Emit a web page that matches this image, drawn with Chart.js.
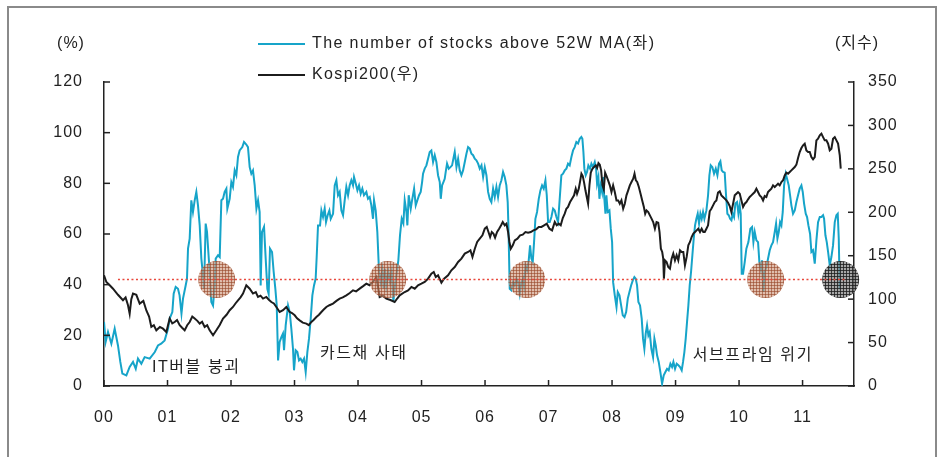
<!DOCTYPE html>
<html><head><meta charset="utf-8">
<script src="https://cdn.jsdelivr.net/npm/chart.js@4.4.1/dist/chart.umd.min.js"></script>
<style>
html,body{margin:0;padding:0;background:#fff;overflow:hidden;}
#wrap{position:relative;width:938px;height:457px;}
#frame{position:absolute;left:7px;top:6px;width:930px;height:470px;border:2px solid #8a8a8a;box-sizing:border-box;}
canvas{position:absolute;left:0;top:0;}
</style></head><body>
<div id="wrap"><div id="frame"></div><canvas id="c" width="938" height="457"></canvas></div>
<script>
// ---- data (x = years since 2000) ----
const xTickLabels = ['00','01','02','03','04','05','06','07','08','09','10','11'];
const seriesNames = ['The number of stocks above 52W MA(좌)', 'Kospi200(우)'];
const leftUnit = '(%)';
const rightUnit = '(지수)';

const breadthT = [0,0.026,0.063,0.116,0.168,0.22,0.257,0.289,0.352,0.404,0.457,0.5,0.535,0.588,0.64,0.72,0.8,0.85,0.9,0.955,1.008,1.034,1.076,1.097,1.129,1.165,1.19,1.22,1.244,1.286,1.307,1.323,1.349,1.375,1.401,1.428,1.454,1.48,1.507,1.533,1.559,1.575,1.601,1.622,1.643,1.664,1.69,1.717,1.743,1.759,1.795,1.822,1.848,1.874,1.9,1.927,1.942,1.979,2.005,2.031,2.058,2.084,2.11,2.136,2.178,2.205,2.241,2.267,2.294,2.32,2.346,2.373,2.4,
2.426,2.451,2.467,2.488,2.52,2.546,2.572,2.593,2.614,2.646,2.672,2.698,2.72,2.741,2.766,2.793,2.818,2.835,2.861,2.898,2.924,2.95,2.976,2.992,3.018,3.045,3.071,3.097,3.123,3.15,3.176,3.202,3.228,3.255,3.281,3.307,3.333,3.349,3.37,3.402,3.423,3.449,3.475,3.496,3.522,3.549,3.57,3.607,3.633,3.659,3.685,3.711,3.738,3.764,3.79,3.816,3.843,3.869,3.895,3.921,3.937,3.964,3.99,4.016,4.042,4.068,4.094,4.131,4.157,4.184,4.21,4.236,4.252,4.278,4.304,4.331,4.357,4.383,4.404,4.425,4.446,4.478,4.504,4.53,4.557,4.583,4.61,4.635,4.661,4.688,4.714,
4.735,4.762,4.777,4.798,4.83,4.851,4.883,4.909,4.935,4.961,4.987,5.009,5.024,5.05,5.077,5.103,5.129,5.155,5.182,5.208,5.234,5.26,5.287,5.303,5.324,5.345,5.365,5.381,5.402,5.429,5.455,5.481,5.507,5.523,5.55,5.576,5.602,5.628,5.654,5.681,5.707,5.733,5.76,5.786,5.812,5.838,5.864,5.891,5.917,5.944,5.97,5.996,6.022,6.048,6.074,6.1,6.127,6.153,6.179,6.205,6.231,6.258,6.284,6.31,6.336,6.357,6.368,6.389,6.415,6.441,6.468,6.494,6.52,6.547,6.573,6.6,6.615,6.636,6.662,6.688,6.709,6.73,6.751,6.772,6.793,6.819,6.846,6.872,6.898,6.924,6.951,6.972,6.993,7.019,7.045,7.072,7.098,7.124,7.15,
7.202,7.228,7.255,7.281,7.307,7.333,7.36,7.386,7.412,7.438,7.465,7.491,7.517,7.533,7.549,7.564,7.585,7.606,7.627,7.654,7.675,7.701,7.728,7.749,7.764,7.785,7.801,7.822,7.843,7.859,7.875,7.896,7.911,7.932,7.959,7.98,8.001,8.017,8.043,8.07,8.09,8.117,8.143,8.169,8.196,8.222,8.248,8.274,8.3,8.327,8.352,8.373,8.394,8.415,8.441,8.467,8.488,8.509,8.53,8.551,8.572,8.593,8.619,8.646,8.667,8.688,8.709,8.735,8.761,8.788,8.814,8.84,8.866,8.892,8.919,8.945,8.966,8.992,9.018,9.045,9.071,9.097,9.118,9.139,9.16,9.181,9.202,9.223,9.244,9.265,9.286,9.307,9.328,9.349,9.37,9.391,9.412,9.433,9.454,
9.486,9.512,9.533,9.554,9.58,9.606,9.633,9.659,9.685,9.706,9.727,9.748,9.774,9.795,9.816,9.838,9.859,9.88,9.9,9.921,9.942,9.969,9.99,10.01,10.026,10.042,10.063,10.089,10.115,10.147,10.178,10.205,10.226,10.247,10.273,10.299,10.32,10.341,10.362,10.383,10.404,10.43,10.457,10.483,10.509,10.535,10.562,10.583,10.604,10.625,10.646,10.667,10.688,10.709,10.735,10.756,10.782,10.803,10.824,10.85,10.877,10.903,10.929,10.955,10.982,11.003,11.024,11.05,11.071,11.092,11.118,11.139,11.165,11.192,11.218,11.244,11.271,11.297,11.323,11.339,11.36,11.381,11.402,11.428,11.454,11.48,11.507,11.533,11.554,11.57,11.585];
const breadthPct = [25.3,17.4,21.3,16.7,22.6,16,9.5,4.9,4.2,7.5,9.5,6.8,10.8,8.8,11.4,10.8,13.4,16,16.7,18,22.6,26.6,29.2,36.4,39.1,38.4,35.8,28.6,34.5,39.7,42.4,54.2,58.2,73.3,68.7,73.3,76.6,71.3,63.4,50.3,43.7,38.4,64.1,60.8,52.9,45,33.2,31.8,39.7,50.3,51.6,50.9,73.3,73.9,76.6,77.9,70,73.9,80.5,78.6,85.1,83.2,90.4,93,94.3,96.3,95.3,94.3,86.4,83.8,85.1,79.2,70,
73.3,68.7,39.7,60.8,62.8,50.3,38.4,36.4,54.2,52.9,45,38.4,31.8,10.1,17.4,19.3,20.7,14.1,23.9,31.8,29.2,22.6,14.7,6.2,14.1,13.4,10.1,10.8,9.5,10.8,5.5,13.4,18.7,26.6,35.8,39.7,42.4,50.9,63.4,63.4,69.3,66.7,70,64.7,67.4,69.3,66,68,79.2,81.2,75.3,76.6,69.3,67.4,73.3,78.6,75.3,79.2,81.2,79.2,82.5,79.9,77.2,79.2,75.9,77.9,75.3,76.6,73.9,74.6,71.3,66,73.3,69.3,60.8,45,41,45.7,38.4,46.3,39.7,45,41,45,33.5,39.7,45,49.6,59.5,66,64.2,
73.3,68.7,63.4,75.3,70,73.3,77.9,71.3,73.3,75.3,76.6,80.5,83.8,85.8,87.1,89.7,92.4,93,88.4,91.1,88.4,83.2,80.5,73.9,79.2,80.5,81.8,84.5,87.8,85.8,86.4,87.1,90.4,92.4,86.4,89.7,85.1,83.2,85.1,88.4,91.7,94.3,93.7,91.7,91.1,89.7,89.1,87.8,85.8,87.1,82.5,86.4,83.2,76.6,73.9,72.6,77.9,74.6,78.6,74.6,79.2,81.2,84.5,82.5,79.2,72.6,63.4,38.4,37.8,41,39.7,42.4,41,36.4,41,42.4,39.7,47.6,45.7,49.6,55.5,50.3,48.9,56.8,66,68.7,73.9,77.2,79.2,77.9,81.2,75.3,64.7,64.7,66.7,70,69.3,66.7,64.7,
83.2,83.8,85.1,85.8,87.8,87.1,90.4,93,94.3,96.3,95.7,97.6,98.3,97.6,92.4,85.8,83.2,84.5,87.1,85.8,87.8,86.4,88.4,85.8,79.9,82.5,73.9,79.2,76.6,82.5,75.3,68,75.3,68.7,69.3,62.1,56.8,41,35.8,31.2,37.1,35.8,31.8,27.9,27.2,29.2,34.5,37.1,39.7,41.7,43,42.4,39.7,33.2,31.8,26.6,18.7,14.7,20.7,23.9,20,21.3,14.7,11.4,18.7,16,12.1,9.5,5.5,0.9,4.2,5.5,6.8,6.2,8.8,7.5,9.5,6.8,8.8,8.2,7.5,6.2,9.5,13.4,18.7,25.3,31.8,39.7,45,51.6,58.2,63.4,66,68,64.1,68,66,68.7,66,
69.3,75.3,83.2,87.1,86.4,83.8,85.8,83.2,87.8,88.7,85.1,84.5,84.2,75.3,68,67.4,66,65.4,68,66.7,72,72.6,68,71.3,68,44.3,44.3,48.9,54.2,56.8,62.1,62.8,56.8,60.8,57.5,56.8,48.9,46.3,49.6,37.1,45,47,50.3,53.6,55.5,56.8,60.8,64.1,58.2,60.8,64.7,63.4,68.7,79.2,83.8,81.8,79.2,75.3,71.3,68,69.3,72.6,75.3,77.9,79.2,76.6,72,68,66.7,63.4,60.1,52.9,53.6,48.3,57.5,64.7,66.7,66.7,67.4,66,59.5,56.8,52.9,47.6,50.9,55.5,64.7,67.4,68,58.2,38.2];

const kospiT = [0,0.037,0.09,0.142,0.22,0.299,0.34,0.378,0.404,0.43,0.457,0.509,0.562,0.62,0.667,0.71,0.745,0.785,0.824,0.88,0.929,0.982,1.034,1.075,1.113,1.15,1.192,1.23,1.27,1.31,1.349,1.39,1.428,1.47,1.507,1.545,1.585,1.625,1.664,1.717,1.769,1.82,1.874,1.93,1.979,2.031,2.07,2.11,2.15,2.189,2.241,2.294,2.346,2.39,2.425,2.465,2.504,2.556,2.6,2.635,2.675,2.714,2.766,2.819,2.871,2.924,2.96,3.003,3.04,3.081,3.13,3.186,3.225,3.265,3.3,3.344,3.385,3.423,3.46,3.501,3.55,3.606,3.66,3.711,3.76,3.816,3.87,3.921,3.97,4.026,4.08,4.131,4.18,4.236,4.289,4.341,4.39,4.446,4.51,4.577,4.62,4.656,
4.735,4.788,4.841,4.893,4.945,4.998,5.05,5.103,5.155,5.192,5.224,5.26,5.313,5.355,5.418,5.47,5.523,5.576,5.628,5.681,5.733,5.77,5.802,5.839,5.876,5.917,5.959,5.996,6.027,6.054,6.08,6.106,6.132,6.158,6.19,6.222,6.253,6.279,6.311,6.337,6.363,6.384,6.405,6.437,6.468,6.51,6.552,6.594,6.636,6.678,6.72,6.762,6.804,6.846,6.888,6.93,6.972,7.014,7.056,
7.098,7.129,7.16,7.192,7.224,7.255,7.281,7.307,7.339,7.37,7.402,7.428,7.449,7.476,7.497,7.518,7.539,7.56,7.581,7.602,7.623,7.644,7.665,7.691,7.717,7.744,7.765,7.786,7.807,7.828,7.849,7.87,7.891,7.912,7.938,7.965,7.991,8.017,8.043,8.07,8.096,8.122,8.148,8.175,8.201,8.227,8.254,8.28,8.306,8.333,8.354,8.375,8.396,8.422,8.449,8.475,8.501,8.522,8.543,8.57,8.596,8.622,8.648,8.675,8.701,8.727,8.748,8.769,8.79,8.806,8.817,8.833,8.859,8.885,8.912,8.938,8.964,8.991,9.017,9.043,9.07,9.096,9.122,9.148,9.175,9.201,9.227,9.253,9.28,9.306,9.332,9.358,9.385,9.411,9.437,
9.46,9.486,9.512,9.538,9.564,9.591,9.617,9.643,9.669,9.696,9.722,9.748,9.774,9.801,9.827,9.853,9.879,9.906,9.932,9.958,9.984,10.011,10.037,10.063,10.089,10.116,10.142,10.168,10.194,10.22,10.247,10.273,10.299,10.325,10.352,10.378,10.404,10.43,10.456,10.483,10.509,10.535,10.562,10.588,10.614,10.64,10.667,10.693,10.719,10.745,10.772,10.798,10.824,10.85,10.877,10.903,10.929,10.955,10.982,11.008,11.034,11.06,11.087,11.113,11.139,11.165,11.192,11.218,11.244,11.271,11.297,11.323,11.349,11.375,11.402,11.428,11.454,11.48,11.507,11.533,11.559,11.586,11.601];
const kospiIdx = [127.4,119.7,116,112,105,98.7,102,92.9,83.3,100,106.4,105,94.8,98,87,80,68,70,64.1,68,66,62.2,77.6,72,73.7,76,69.9,67,64.1,70,73.7,80,77.6,75,71.8,74,68,70,64.1,58.4,64.1,70,77.6,82,87.2,91,95,98.7,102,106.4,116,112,106.4,108,102.5,104,100.6,102.5,99,96.7,95,91,85.2,87.2,91,85.2,84,81.4,78,75.6,73,71.8,70,73.7,76,79.4,82,85.2,88,91,93,94.9,98,100.6,102,104.4,107,110.2,109,112.1,115,117.9,116,119.8,125.5,102.5,104,100.6,99,96.7,101,104.4,
108.2,110.1,114,112,115.9,117.8,119.8,123.6,129.4,131.3,125.5,127.4,119,123.6,127.4,133.2,137,142.8,146.6,152.4,154.3,156.2,148.5,158.1,165.8,169.6,173.5,181.1,183.1,177.3,171.5,177.3,175.4,170.8,177.3,181.1,185,188.8,185,186.9,177.3,165.8,158.1,162,167.7,169.6,173.5,174.2,177.3,176.5,177.3,179.2,180.4,183.1,183.1,185,186.9,181.1,179.2,
188.8,185,186.9,185,193.4,198.4,204.1,206.1,211.8,215.7,219.5,227.2,221.4,227.2,235.6,244.5,241.8,234.1,225.3,217.6,209.9,231,245.6,250.2,252.2,254.1,251,256.7,254.8,248.3,231,226.4,245.6,241.8,236.8,231,223.3,231,223.3,213.7,213.7,209.9,213.7,204.1,209.9,219.5,225.3,231,234.9,238.7,244.5,236.8,234.9,229.1,221.4,213.7,206.1,198.4,202.2,200.3,196.5,192.7,188.8,181.1,188.8,188.1,177.3,158.1,154.3,146.6,123.6,144.7,142.8,137,135.1,146.6,152.4,144.7,150.5,144.7,156.2,154.3,154.3,139,148.6,162,165.8,171.5,175.4,177.3,179.2,181.1,177.3,181.1,177.3,
177.3,181.1,185,201.1,204.1,208,211.8,213.7,222.6,224.1,219.5,217.6,215.7,213.7,211,207.2,200.3,209.9,219.5,221.4,223.3,221.4,213.7,206.1,209.9,211.8,214.9,217.6,219.5,221.4,223.3,227.2,223.3,219.5,217.6,213.7,218.7,217.6,223.3,225.3,227.2,231,229.1,231,232.9,231,234.9,236.8,242.5,245.6,244.5,246.4,248.3,250.2,252.1,254.8,262.5,269.4,274,277.1,279,271.3,269.4,269.4,263.6,260.9,263.6,282.8,284.7,288.6,290.5,286.6,282.8,282.8,279,271.3,273.2,284.7,286.6,282.8,279,265.6,250.2];

const thresholdT = [0.22, 11.67];
const thresholdPct = [42, 42];
const crisisT = [1.775, 4.468, 6.657, 10.42, 11.6];
const crisisPct = [42, 42, 42, 42, 42];
const crisisKind = ['past', 'past', 'past', 'past', 'now'];
const noteTexts = ['IT버블 붕괴', '카드채 사태', '서브프라임 위기'];
const noteT = [0.754, 3.40, 9.27];
const notePct = [7.4, 12.9, 12.1];

// ---- chart ----
const FONT = "'Liberation Sans', 'Noto Sans CJK KR', sans-serif";
const canvas = document.getElementById('c');
const ctx = canvas.getContext('2d');

function makeHatch(base, line) {
  const c = document.createElement('canvas');
  c.width = 3; c.height = 3;
  const g = c.getContext('2d');
  g.fillStyle = base; g.fillRect(0, 0, 3, 3);
  g.fillStyle = line; g.fillRect(0, 0, 3, 1); g.fillRect(0, 0, 1, 3);
  return ctx.createPattern(c, 'repeat');
}
const hatchPast = makeHatch('rgba(205,150,122,0.62)', 'rgba(150,70,40,0.6)');
const hatchNow = makeHatch('rgba(130,130,130,0.7)', 'rgba(30,30,30,0.8)');

const decorPlugin = {
  id: 'decor',
  beforeDraw(chart) { chart.ctx.letterSpacing = '1px'; },
  afterDatasetDraw(chart, args) {
    if (args.index !== 1) return;
    const c = chart.ctx, xs = chart.scales.x, ys = chart.scales.yL;
    c.save();
    crisisT.forEach((t, i) => {
      c.beginPath();
      c.arc(xs.getPixelForValue(t), ys.getPixelForValue(crisisPct[i]), 18.5, 0, Math.PI * 2);
      c.fillStyle = crisisKind[i] === 'now' ? hatchNow : hatchPast;
      c.fill();
    });
    c.restore();
  },
  afterDraw(chart) {
    const c = chart.ctx, xs = chart.scales.x, yl = chart.scales.yL, yr = chart.scales.yR;
    const a = chart.chartArea;
    c.save();
    c.strokeStyle = '#222'; c.lineWidth = 1.5;
    // inward tick marks
    xs.ticks.forEach(tk => {
      const px = xs.getPixelForValue(tk.value);
      c.beginPath(); c.moveTo(px, a.bottom); c.lineTo(px, a.bottom - 6); c.stroke();
    });
    yl.ticks.forEach(tk => {
      const py = yl.getPixelForValue(tk.value);
      c.beginPath(); c.moveTo(a.left, py); c.lineTo(a.left + 6, py); c.stroke();
    });
    yr.ticks.forEach(tk => {
      const py = yr.getPixelForValue(tk.value);
      c.beginPath(); c.moveTo(a.right, py); c.lineTo(a.right - 6, py); c.stroke();
    });
    // units
    c.fillStyle = '#222';
    c.font = '16px ' + FONT;
    c.letterSpacing = '1px';
    c.textBaseline = 'middle';
    c.textAlign = 'center';
    c.fillText(leftUnit, 71, 44);
    c.fillText(rightUnit, 857, 44);
    // legend
    c.textAlign = 'left';
    c.letterSpacing = '1.4px';
    const legendRows = [{ ds: chart.data.datasets[2], y: 44 }, { ds: chart.data.datasets[1], y: 75 }];
    legendRows.forEach(r => {
      c.strokeStyle = r.ds.borderColor; c.lineWidth = 2;
      c.beginPath(); c.moveTo(258, r.y); c.lineTo(305, r.y); c.stroke();
      c.fillText(r.ds.label, 312, r.y);
    });
    // notes
    c.letterSpacing = '1.6px';
    noteTexts.forEach((txt, i) => {
      c.fillText(txt, xs.getPixelForValue(noteT[i]), yl.getPixelForValue(notePct[i]));
    });
    c.restore();
  }
};

const tickFont = { family: FONT, size: 16 };
new Chart(ctx, {
  type: 'line',
  data: {
    datasets: [
      { label: 'threshold', data: thresholdT.map((t, i) => ({ x: t, y: thresholdPct[i] })), yAxisID: 'yL',
        borderColor: '#e8473b', borderWidth: 1.5, borderDash: [2, 2.5], pointRadius: 0, fill: false },
      { label: seriesNames[1], data: kospiT.map((t, i) => ({ x: t, y: kospiIdx[i] })), yAxisID: 'yR',
        borderColor: '#1c1c1c', borderWidth: 2, pointRadius: 0, fill: false, tension: 0 },
      { label: seriesNames[0], data: breadthT.map((t, i) => ({ x: t, y: breadthPct[i] })), yAxisID: 'yL',
        borderColor: '#16a4c9', borderWidth: 2, pointRadius: 0, fill: false, tension: 0 }
    ]
  },
  options: {
    responsive: false, animation: false, devicePixelRatio: 1,
    layout: { padding: { top: 82, left: 0, right: 0, bottom: 0 } },
    plugins: { legend: { display: false }, tooltip: { enabled: false } },
    scales: {
      x: {
        type: 'linear', min: 0, max: 11.81,
        afterBuildTicks: s => { s.ticks = xTickLabels.map((_, i) => ({ value: i })); },
        afterFit: s => { s.height = 71; },
        ticks: { callback: (v, i) => xTickLabels[i], padding: 22, color: '#222', font: tickFont, maxRotation: 0, autoSkip: false },
        grid: { display: false, drawTicks: false },
        border: { display: true, color: '#222', width: 1.5 }
      },
      yL: {
        position: 'left', min: 0, max: 120,
        afterFit: s => { s.width = 104; },
        ticks: { stepSize: 20, padding: 21, color: '#222', font: tickFont },
        grid: { display: false, drawTicks: false },
        border: { display: true, color: '#222', width: 1.5 }
      },
      yR: {
        position: 'right', min: 0, max: 350,
        afterFit: s => { s.width = 84; },
        ticks: { stepSize: 50, padding: 14, color: '#222', font: tickFont },
        grid: { display: false, drawTicks: false },
        border: { display: true, color: '#222', width: 1.5 }
      }
    }
  },
  plugins: [decorPlugin]
});
</script>
</body></html>
